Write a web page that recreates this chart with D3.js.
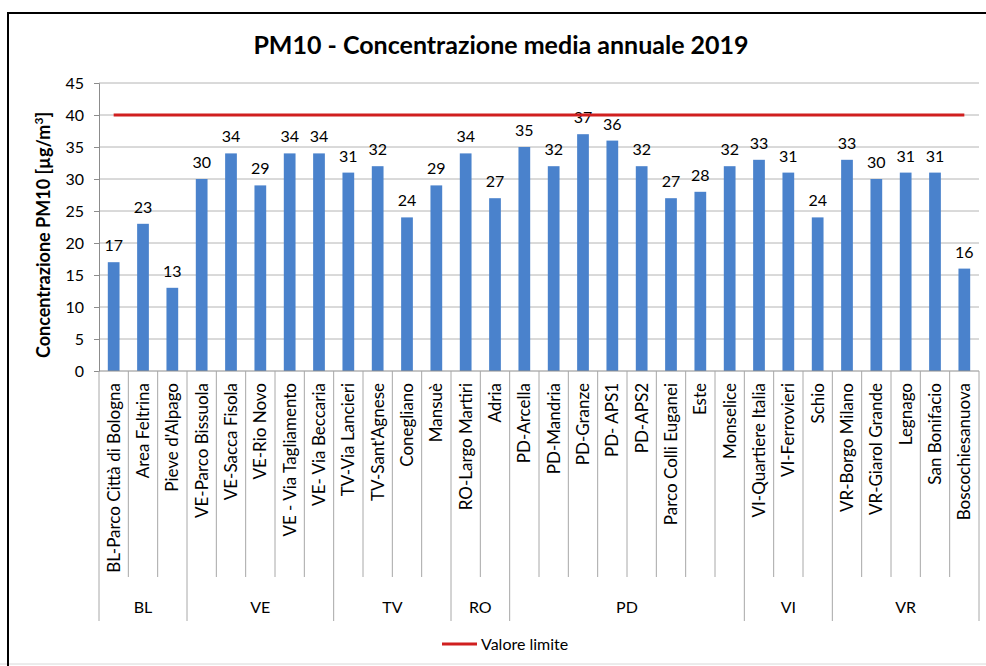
<!DOCTYPE html>
<html>
<head>
<meta charset="utf-8">
<script src="https://cdn.jsdelivr.net/npm/d3@7"></script>
<style>
  body { margin: 0; background: #fff; overflow: hidden; }
  svg { display: block; font-family: Lato, "Open Sans", sans-serif; }
</style>
</head>
<body>
<script>
// data
const stations = [
    "BL-Parco Città di Bologna", "Area Feltrina", "Pieve d'Alpago",
    "VE-Parco Bissuola", "VE-Sacca Fisola", "VE-Rio Novo", "VE - Via Tagliamento", "VE- Via Beccaria",
    "TV-Via Lancieri", "TV-Sant'Agnese", "Conegliano", "Mansuè",
    "RO-Largo Martiri", "Adria",
    "PD-Arcella", "PD-Mandria", "PD-Granze", "PD- APS1", "PD-APS2", "Parco Colli Euganei", "Este", "Monselice",
    "VI-Quartiere Italia", "VI-Ferrovieri", "Schio",
    "VR-Borgo Milano", "VR-Giarol Grande", "Legnago", "San Bonifacio", "Boscochiesanuova"
];
const pm10 = [17, 23, 13, 30, 34, 29, 34, 34, 31, 32, 24, 29, 34, 27, 35, 32, 37, 36, 32, 27, 28, 32, 33, 31, 24, 33, 30, 31, 31, 16];
const provinces = ["BL", "VE", "TV", "RO", "PD", "VI", "VR"];
const provinceCounts = [3, 5, 4, 2, 8, 3, 5];
const limitValue = 40;
const yTicks = [0, 5, 10, 15, 20, 25, 30, 35, 40, 45];

const width = 986, height = 666;
const plotLeft = 99, plotRight = 979, plotTop = 83, plotBottom = 371;

const svg = d3.select("body").append("svg")
    .attr("width", width)
    .attr("height", height);

// outer frame (only left + top are visible in the picture, bottom is faint)
svg.append("line")
    .attr("x1", 0).attr("x2", width).attr("y1", 664).attr("y2", 664)
    .attr("stroke", "#d8d8d8");
svg.append("path")
    .attr("d", `M8,${height} V13 H${width}`)
    .attr("fill", "none")
    .attr("stroke", "#000")
    .attr("stroke-width", 2);

// [1] scales
const x = d3.scaleBand()
    .domain(stations)
    .range([plotLeft, plotRight])
    .paddingInner(0.6)
    .paddingOuter(0.3);

const xStep = x.step();
const xCenter = d => x(d) + x.bandwidth() / 2;

const y = d3.scaleLinear()
    .domain([0, 45])
    .range([plotBottom, plotTop]);

// [2] gridlines + y axis
svg.append("g")
    .selectAll("line")
    .data(yTicks.filter(d => d > 0))
    .join("line")
        .attr("x1", plotLeft).attr("x2", plotRight)
        .attr("y1", d => y(d)).attr("y2", d => y(d))
        .attr("stroke", "#b4b4b4");

const yAxis = d3.axisLeft(y).tickValues(yTicks).tickSize(5).tickPadding(10);
svg.append("g")
    .attr("transform", `translate(${plotLeft},0)`)
    .call(yAxis)
    .call(g => g.select(".domain").attr("stroke", "#8c8c8c"))
    .call(g => g.selectAll("line").attr("stroke", "#8c8c8c"))
    .call(g => g.selectAll("text")
        .attr("fill", "#000")
        .attr("font-size", 16)
        .attr("font-family", "Lato, sans-serif"));

// [3] bars
svg.append("g")
    .selectAll("rect")
    .data(stations)
    .join("rect")
        .attr("x", d => x(d))
        .attr("y", (d, i) => y(pm10[i]))
        .attr("width", x.bandwidth())
        .attr("height", (d, i) => y(0) - y(pm10[i]))
        .attr("fill", "#4a82cc");

// value labels
svg.append("g")
    .selectAll("text")
    .data(stations)
    .join("text")
        .attr("x", d => xCenter(d))
        .attr("y", (d, i) => y(pm10[i]) - 11)
        .attr("text-anchor", "middle")
        .attr("font-size", 16)
        .text((d, i) => pm10[i]);

// [4] limit line through the category centres
const limitLine = d3.line()
    .x(d => xCenter(d))
    .y(() => y(limitValue));

svg.append("path")
    .datum(stations)
    .attr("d", limitLine)
    .attr("fill", "none")
    .attr("stroke", "#d01f1f")
    .attr("stroke-width", 3);

// [5] category axis: baseline, separators, rotated labels
svg.append("line")
    .attr("x1", plotLeft).attr("x2", plotRight)
    .attr("y1", plotBottom).attr("y2", plotBottom)
    .attr("stroke", "#8c8c8c");

const separators = d3.range(stations.length + 1).map(i => plotLeft + i * xStep);
svg.append("g")
    .selectAll("line")
    .data(separators)
    .join("line")
        .attr("x1", d => d).attr("x2", d => d)
        .attr("y1", plotBottom)
        .attr("y2", 577)
        .attr("stroke", "#a8a8a8");

svg.append("g")
    .selectAll("text")
    .data(stations)
    .join("text")
        .attr("transform", d => `translate(${xCenter(d)},383) rotate(-90)`)
        .attr("dy", "0.36em")
        .attr("text-anchor", "end")
        .attr("font-size", 17)
        .text(d => d);

// province groups
const groupEdges = [0];
provinceCounts.forEach(c => groupEdges.push(groupEdges[groupEdges.length - 1] + c));

svg.append("g")
    .selectAll("line")
    .data(groupEdges)
    .join("line")
        .attr("x1", d => plotLeft + d * xStep).attr("x2", d => plotLeft + d * xStep)
        .attr("y1", 577).attr("y2", 621)
        .attr("stroke", "#a8a8a8");

svg.append("g")
    .selectAll("text")
    .data(provinces)
    .join("text")
        .attr("x", (d, i) => plotLeft + (groupEdges[i] + groupEdges[i + 1]) / 2 * xStep)
        .attr("y", 613)
        .attr("text-anchor", "middle")
        .attr("font-size", 16)
        .text(d => d);

// [6] titles
svg.append("text")
    .attr("x", 501).attr("y", 54)
    .attr("text-anchor", "middle")
    .attr("font-size", 25)
    .attr("font-weight", "bold")
    .text("PM10 - Concentrazione media annuale 2019");

const yLabel = svg.append("text")
    .attr("transform", `translate(50,235) rotate(-90)`)
    .attr("text-anchor", "middle")
    .attr("font-size", 18)
    .attr("font-weight", "bold");
yLabel.append("tspan").text("Concentrazione PM10 [µg/m");
yLabel.append("tspan").attr("dy", -7).attr("font-size", 12).text("3");
yLabel.append("tspan").attr("dy", 7).text("]");

// [7] legend
svg.append("line")
    .attr("x1", 442).attr("x2", 477)
    .attr("y1", 644).attr("y2", 644)
    .attr("stroke", "#d01f1f")
    .attr("stroke-width", 3);

svg.append("text")
    .attr("x", 481).attr("y", 650)
    .attr("font-size", 16)
    .text("Valore limite");
</script>
</body>
</html>
